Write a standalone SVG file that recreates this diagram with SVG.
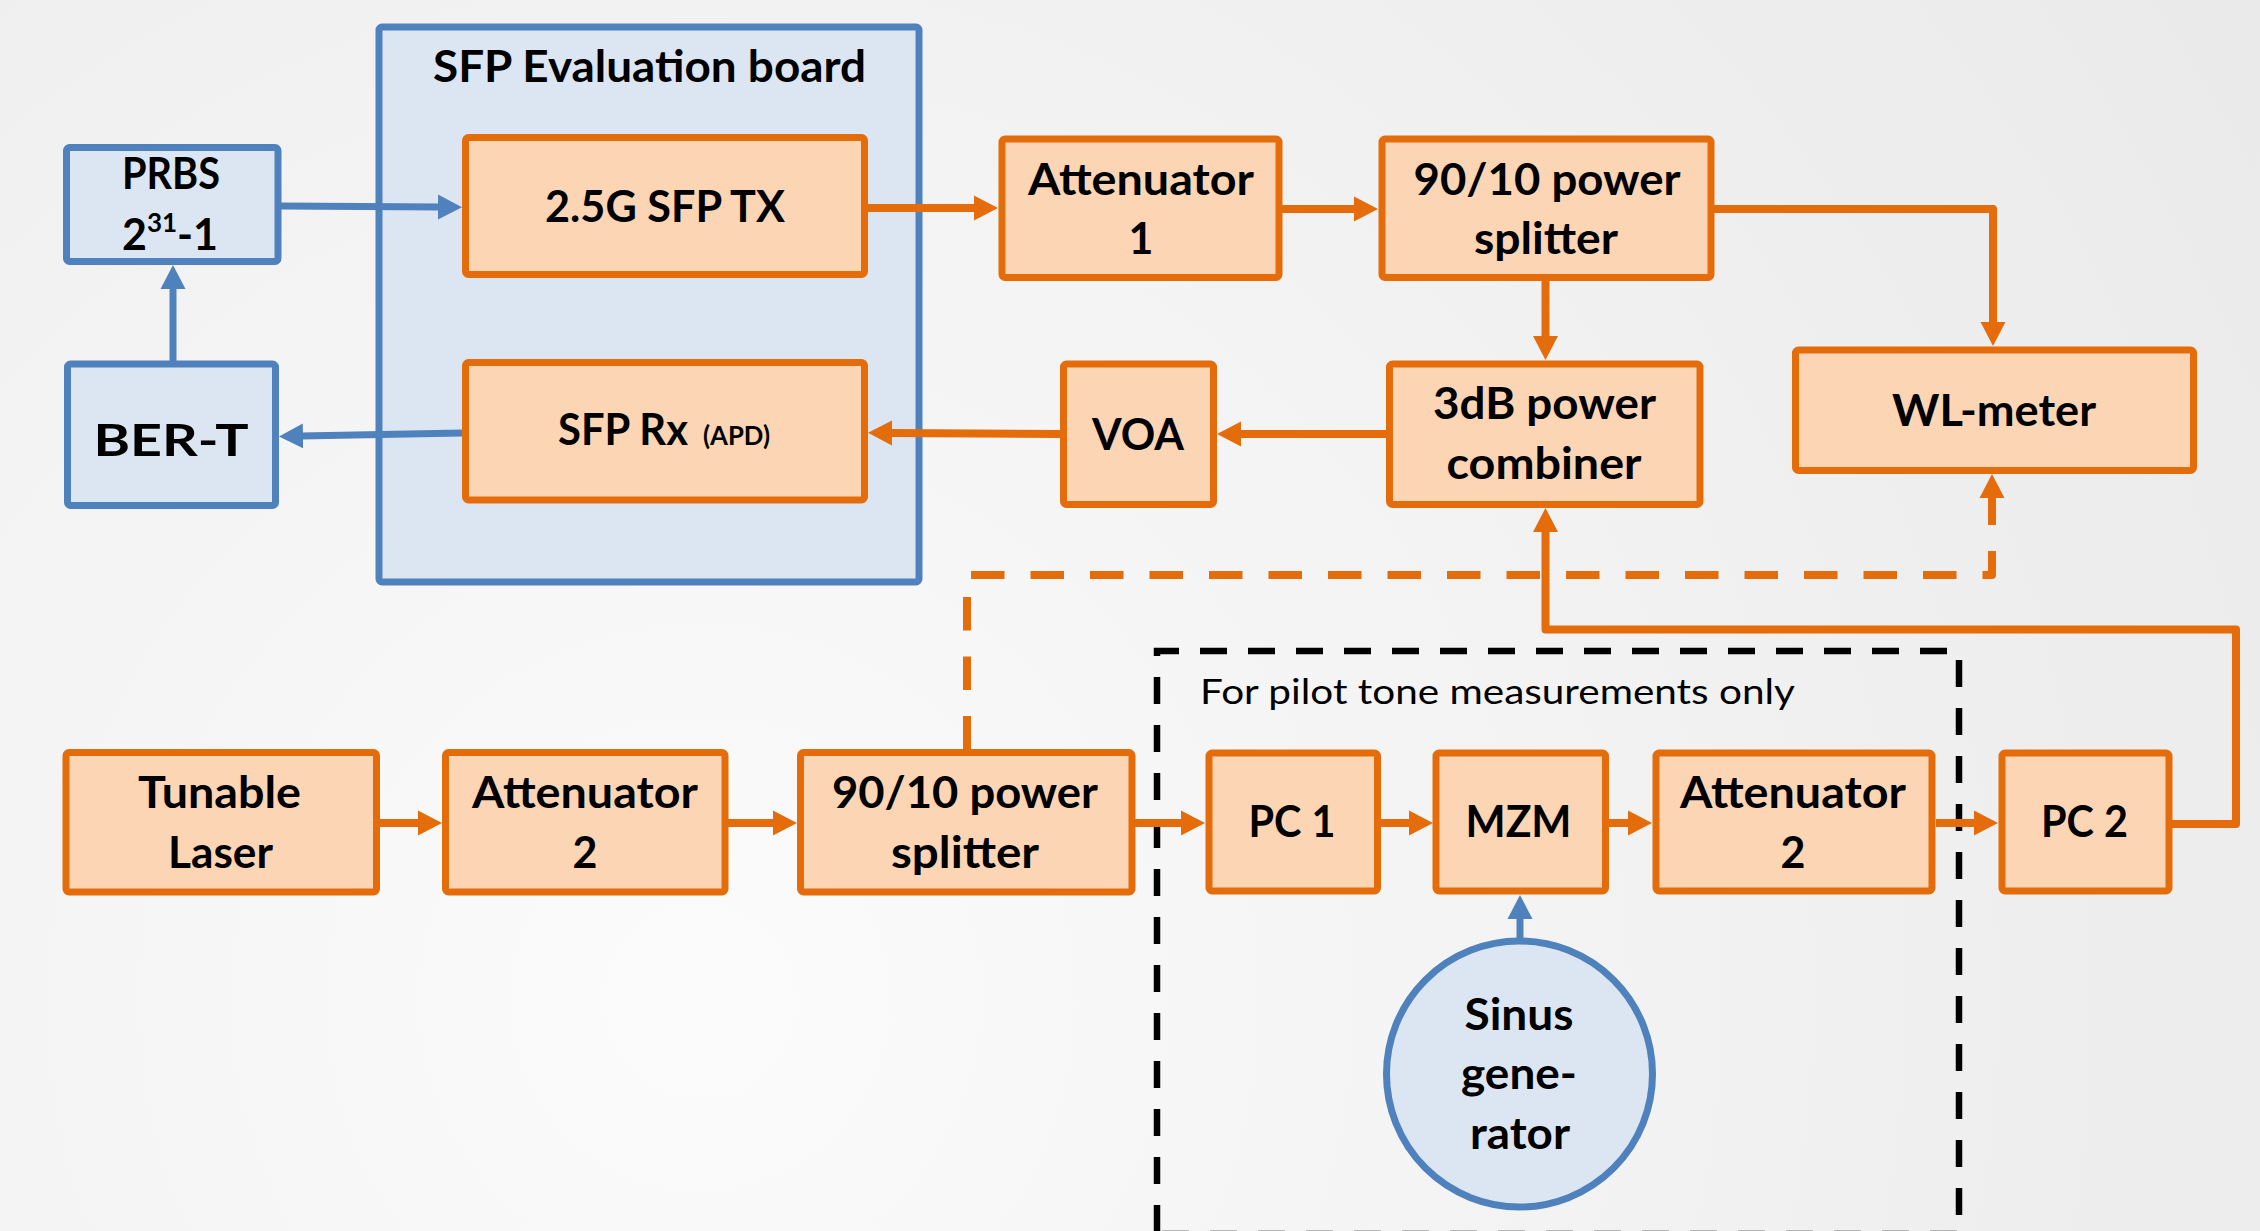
<svg xmlns="http://www.w3.org/2000/svg" width="2260" height="1231" viewBox="0 0 2260 1231">
  <defs>
    <radialGradient id="bg" cx="700" cy="1000" r="1900" gradientUnits="userSpaceOnUse">
      <stop offset="0" stop-color="#fbfbfb"/>
      <stop offset="1" stop-color="#e9e9e9"/>
    </radialGradient>
    <marker id="ao" markerUnits="userSpaceOnUse" markerWidth="24" markerHeight="26" refX="2" refY="13" orient="auto">
      <path d="M0,0.5 L24,13 L0,25.5 Z" fill="#e46c0a"/>
    </marker>
    <marker id="ab" markerUnits="userSpaceOnUse" markerWidth="24" markerHeight="26" refX="2" refY="13" orient="auto">
      <path d="M0,0.5 L24,13 L0,25.5 Z" fill="#4f81bd"/>
    </marker>
  </defs>
  <style>
    .ob { fill: #fcd5b4; stroke: #e46c0a; stroke-width: 7; }
    .bb { fill: #dce6f2; stroke: #4f81bd; stroke-width: 7; }
    .lbl { font-family: Lato, "Open Sans", "Liberation Sans", sans-serif; font-weight: 700; font-size: 43px; fill: #000; text-anchor: middle; }
    .lbl.left { text-anchor: start; }
    .note { font-family: Lato, "Open Sans", "Liberation Sans", sans-serif; font-weight: 400; font-size: 35px; fill: #000; }
    .oc { fill: none; stroke: #e46c0a; stroke-width: 8; stroke-linejoin: round; }
    .bc { fill: none; stroke: #4f81bd; stroke-width: 7; }
  </style>

  <rect width="2260" height="1231" fill="url(#bg)"/>

  <!-- evaluation board container -->
  <g id="sfp-board">
    <rect class="bb" x="379" y="27" width="540" height="555" rx="3" stroke-width="6.5"/>
    <text class="lbl" x="649.5" y="82" textLength="433" lengthAdjust="spacingAndGlyphs">SFP Evaluation board</text>
  </g>

  <!-- optional pilot-tone section -->
  <g id="pilot-tone-area">
    <path d="M1157,1234 V651 H1959 V1234 Z" fill="none" stroke="#000" stroke-width="6.5" stroke-dasharray="27 21" stroke-dashoffset="46"/>
    <text class="note" x="1200" y="703.5" textLength="595" lengthAdjust="spacingAndGlyphs">For pilot tone measurements only</text>
  </g>

  <!-- connectors -->
  <g id="connectors">
    <!-- electrical (blue) -->
    <path class="bc" d="M281,206 L440,207" marker-end="url(#ab)"/>
    <path class="bc" d="M462,433 L301,436" marker-end="url(#ab)"/>
    <path class="bc" d="M173,361 V287" marker-end="url(#ab)"/>
    <path class="bc" d="M1520,938 V917" marker-end="url(#ab)"/>
    <!-- optical (orange) -->
    <path class="oc" d="M868,208 H976" marker-end="url(#ao)"/>
    <path class="oc" d="M1282,209 H1356" marker-end="url(#ao)"/>
    <path class="oc" d="M1714,209 H1993 V324" marker-end="url(#ao)"/>
    <path class="oc" d="M1545.5,281 V338" marker-end="url(#ao)"/>
    <path class="oc" d="M1386,434 H1239" marker-end="url(#ao)"/>
    <path class="oc" d="M1060,434 L890,433" marker-end="url(#ao)"/>
    <path class="oc" d="M380,823 H420" marker-end="url(#ao)"/>
    <path class="oc" d="M728,823 H775" marker-end="url(#ao)"/>
    <path class="oc" d="M1135,823 H1183" marker-end="url(#ao)"/>
    <path class="oc" d="M1381,823 H1411" marker-end="url(#ao)"/>
    <path class="oc" d="M1609,823 H1630" marker-end="url(#ao)"/>
    <path class="oc" d="M1936,823 H1976" marker-end="url(#ao)"/>
    <path class="oc" d="M2172,824 H2236 V629.5 H1545.5 V530" marker-end="url(#ao)"/>
    <!-- monitor tap to the wavelength meter -->
    <path class="oc" d="M967,751 V575 H1992 V551" stroke-dasharray="33.5 26" stroke-dashoffset="58" stroke-linejoin="miter"/>
    <path class="oc" d="M1992,525 V496" marker-end="url(#ao)"/>
  </g>

  <g id="prbs">
    <rect class="bb" x="66.5" y="147.5" width="211.5" height="114" rx="3"/>
    <text class="lbl" x="171" y="188.5" textLength="98" lengthAdjust="spacingAndGlyphs">PRBS</text>
    <text class="lbl" x="170" y="250">2<tspan font-size="26" dy="-18">31</tspan><tspan dy="18">-1</tspan></text>
  </g>

  <g id="ber-t">
    <rect class="bb" x="67.5" y="364" width="208" height="141.5" rx="3"/>
    <text class="lbl" x="171" y="456" font-size="62" textLength="155" lengthAdjust="spacingAndGlyphs">BER-T</text>
  </g>

  <g id="sfp-tx">
    <rect class="ob" x="465.5" y="137.5" width="399" height="137" rx="3"/>
    <text class="lbl" x="665" y="222" textLength="240" lengthAdjust="spacingAndGlyphs">2.5G SFP TX</text>
  </g>

  <g id="sfp-rx">
    <rect class="ob" x="465.5" y="362.5" width="399" height="137.5" rx="3"/>
    <text class="lbl left" y="445"><tspan x="558" textLength="130" lengthAdjust="spacingAndGlyphs">SFP Rx</tspan> <tspan x="703" font-size="27" textLength="67" lengthAdjust="spacingAndGlyphs">(APD)</tspan></text>
  </g>

  <g id="attenuator-1">
    <rect class="ob" x="1002" y="139" width="277" height="138.5" rx="3"/>
    <text class="lbl" x="1141" y="195" textLength="226" lengthAdjust="spacingAndGlyphs">Attenuator</text>
    <text class="lbl" x="1141" y="254">1</text>
  </g>

  <g id="splitter-top">
    <rect class="ob" x="1382" y="139" width="329" height="138.5" rx="3"/>
    <text class="lbl" x="1547" y="195" textLength="267" lengthAdjust="spacingAndGlyphs">90/10 power</text>
    <text class="lbl" x="1546" y="254" textLength="144" lengthAdjust="spacingAndGlyphs">splitter</text>
  </g>

  <g id="wl-meter">
    <rect class="ob" x="1795.5" y="350" width="398" height="120.5" rx="3"/>
    <text class="lbl" x="1994" y="426" textLength="204" lengthAdjust="spacingAndGlyphs">WL-meter</text>
  </g>

  <g id="combiner">
    <rect class="ob" x="1389.5" y="364" width="310.5" height="140.5" rx="3"/>
    <text class="lbl" x="1544.5" y="419" textLength="223" lengthAdjust="spacingAndGlyphs">3dB power</text>
    <text class="lbl" x="1544" y="479" textLength="195" lengthAdjust="spacingAndGlyphs">combiner</text>
  </g>

  <g id="voa">
    <rect class="ob" x="1063.5" y="364" width="150" height="140.5" rx="3"/>
    <text class="lbl" x="1138" y="450" textLength="92" lengthAdjust="spacingAndGlyphs">VOA</text>
  </g>

  <g id="tunable-laser">
    <rect class="ob" x="66" y="752.5" width="310.5" height="139.5" rx="3"/>
    <text class="lbl" x="219.5" y="808" textLength="163" lengthAdjust="spacingAndGlyphs">Tunable</text>
    <text class="lbl" x="220.5" y="868" textLength="105" lengthAdjust="spacingAndGlyphs">Laser</text>
  </g>

  <g id="attenuator-2a">
    <rect class="ob" x="445.5" y="752.5" width="279.5" height="139.5" rx="3"/>
    <text class="lbl" x="585" y="808" textLength="226" lengthAdjust="spacingAndGlyphs">Attenuator</text>
    <text class="lbl" x="585" y="868">2</text>
  </g>

  <g id="splitter-bottom">
    <rect class="ob" x="800.5" y="752.5" width="331.5" height="139.5" rx="3"/>
    <text class="lbl" x="965" y="808" textLength="266" lengthAdjust="spacingAndGlyphs">90/10 power</text>
    <text class="lbl" x="965" y="868" textLength="148" lengthAdjust="spacingAndGlyphs">splitter</text>
  </g>

  <g id="pc-1">
    <rect class="ob" x="1209" y="753" width="168.5" height="138" rx="3"/>
    <text class="lbl" x="1292" y="837" textLength="87" lengthAdjust="spacingAndGlyphs">PC 1</text>
  </g>

  <g id="mzm">
    <rect class="ob" x="1436" y="753" width="169.5" height="138" rx="3"/>
    <text class="lbl" x="1518.5" y="837" textLength="106" lengthAdjust="spacingAndGlyphs">MZM</text>
  </g>

  <g id="attenuator-2b">
    <rect class="ob" x="1656" y="753" width="276" height="138" rx="3"/>
    <text class="lbl" x="1793" y="808" textLength="226" lengthAdjust="spacingAndGlyphs">Attenuator</text>
    <text class="lbl" x="1793" y="868">2</text>
  </g>

  <g id="pc-2">
    <rect class="ob" x="2002" y="753" width="167" height="138" rx="3"/>
    <text class="lbl" x="2084.5" y="837" textLength="87" lengthAdjust="spacingAndGlyphs">PC 2</text>
  </g>

  <g id="sinus-generator">
    <circle class="bb" cx="1519.5" cy="1074" r="133" stroke-width="6"/>
    <text class="lbl" x="1519" y="1030" textLength="109" lengthAdjust="spacingAndGlyphs">Sinus</text>
    <text class="lbl" x="1519" y="1089" textLength="116" lengthAdjust="spacingAndGlyphs">gene-</text>
    <text class="lbl" x="1520" y="1149" textLength="100" lengthAdjust="spacingAndGlyphs">rator</text>
  </g>
</svg>
